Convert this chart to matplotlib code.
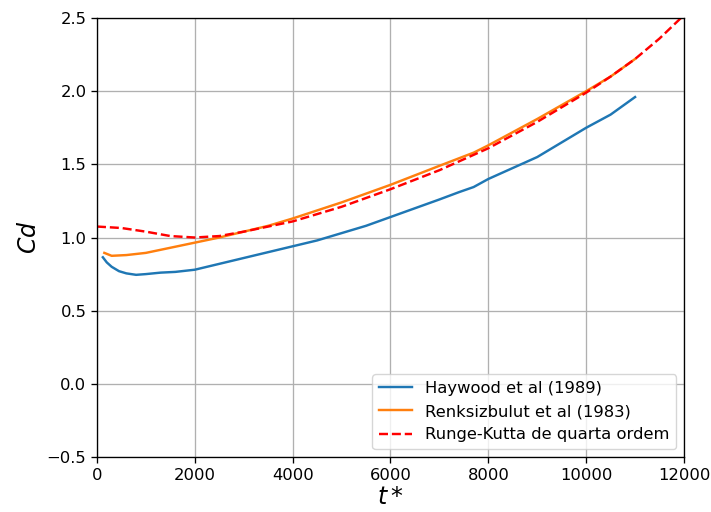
import numpy as np
import matplotlib.pyplot as plt

# dados
t_hay = [120, 200, 300, 450, 600, 800, 1000, 1300, 1600, 2000, 2500, 3000, 3500, 4000,
         4500, 5000, 5500, 6000, 6500, 7000, 7400, 7700, 8000, 8500, 9000, 9500, 10000,
         10500, 11000]
cd_hay = [0.865, 0.83, 0.80, 0.77, 0.755, 0.745, 0.75, 0.76, 0.765, 0.78, 0.82, 0.86,
          0.90, 0.94, 0.98, 1.03, 1.08, 1.14, 1.20, 1.26, 1.31, 1.345, 1.40, 1.475, 1.55,
          1.65, 1.75, 1.84, 1.96]

t_ren = [150, 300, 600, 1000, 1500, 2000, 2500, 3000, 3500, 4000, 5000, 6000, 7000,
         7700, 8000, 9000, 10000, 10500, 11000]
cd_ren = [0.895, 0.875, 0.88, 0.895, 0.93, 0.965, 1.0, 1.04, 1.08, 1.13, 1.24, 1.36,
          1.49, 1.58, 1.63, 1.81, 2.0, 2.1, 2.22]

t_rk = [0, 500, 1000, 1500, 2000, 2500, 3000, 4000, 5000, 6000, 7000, 8000, 9000,
        10000, 10500, 11000, 11500, 12000]
cd_rk = [1.075, 1.065, 1.04, 1.01, 1.0, 1.01, 1.04, 1.11, 1.21, 1.33, 1.46, 1.61, 1.79,
         1.99, 2.10, 2.22, 2.36, 2.52]

fig = plt.figure(figsize=(7.11, 5.12), dpi=100)
ax = fig.add_axes([0.1364, 0.1074, 0.8256, 0.8574])

lw = 1.75
ax.plot(t_hay, cd_hay, color="#1f77b4", lw=lw, label="Haywood et al (1989)")
ax.plot(t_ren, cd_ren, color="#ff7f0e", lw=lw, label="Renksizbulut et al (1983)")
ax.plot(t_rk, cd_rk, "r--", lw=lw, label="Runge-Kutta de quarta ordem")

ax.set_xlim(0, 12000)
ax.set_ylim(-0.5, 2.5)
ax.set_yticks(np.arange(-0.5, 2.51, 0.5))
ax.grid(True, color="#b0b0b0", lw=0.95)
ax.tick_params(labelsize=11.8, length=4.1, width=0.95)
for s in ax.spines.values():
    s.set_linewidth(0.95)

ax.set_xlabel("$t*$", fontsize=17, labelpad=2)
ax.set_ylabel("$Cd$", fontsize=17)
ax.legend(loc="lower right", fontsize=11.8)

fig.savefig("out.png", dpi=100)
